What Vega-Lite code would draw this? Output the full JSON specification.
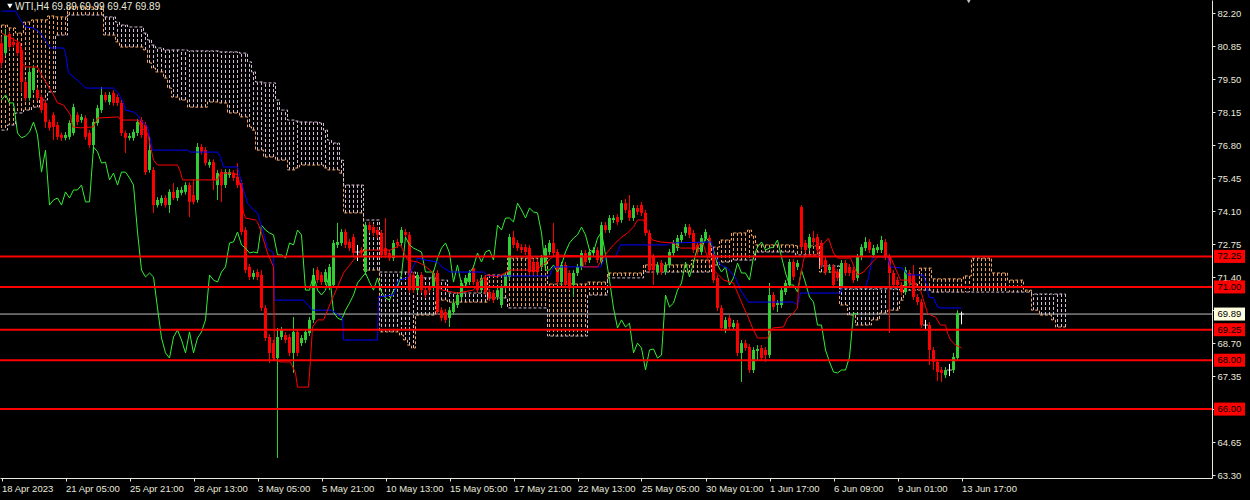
{
  "$schema": "https://vega.github.io/schema/vega-lite/v6.json",
  "width": 1212,
  "height": 478,
  "autosize": {"type": "none"},
  "padding": {"left": 0, "top": 0, "right": 38, "bottom": 22},
  "background": "#000000",
  "config": {"view": {"stroke": null}, "font": "Liberation Sans"},
  "resolve": {"axis": {"x": "independent", "y": "independent"}},
  "datasets": {
    "bars": [
      {"i":0,"o":80.98,"h":81.25,"l":79.98,"c":80.17,"k":78.65,"a":81.72,"b":77.42},
      {"i":1,"o":80.57,"h":81.56,"l":80.45,"c":81.31,"k":78.86,"a":81.72,"b":77.42},
      {"i":2,"o":81.35,"h":81.45,"l":80.7,"c":80.82,"k":78.53,"a":81.6,"b":77.63},
      {"i":3,"o":81.03,"h":81.2,"l":80.8,"c":80.9,"k":78.53,"a":81.6,"b":77.63},
      {"i":4,"o":80.98,"h":81.1,"l":80.45,"c":80.57,"k":77.3,"a":81.39,"b":78.12},
      {"i":5,"o":80.7,"h":80.82,"l":78.98,"c":79.39,"k":77.1,"a":81.39,"b":78.12},
      {"i":6,"o":79.39,"h":79.5,"l":78.6,"c":78.73,"k":77.18,"a":81.84,"b":78.24},
      {"i":7,"o":78.73,"h":80.0,"l":78.62,"c":79.8,"k":77.34,"a":81.84,"b":78.24},
      {"i":8,"o":79.06,"h":80.08,"l":78.95,"c":79.96,"k":77.75,"a":81.93,"b":78.36},
      {"i":9,"o":79.06,"h":79.15,"l":78.62,"c":78.73,"k":77.22,"a":81.93,"b":78.36},
      {"i":10,"o":78.77,"h":78.88,"l":78.12,"c":78.24,"k":75.7,"a":81.93,"b":78.65},
      {"i":11,"o":78.53,"h":78.65,"l":77.51,"c":77.75,"k":76.6,"a":81.93,"b":78.65},
      {"i":12,"o":77.75,"h":77.85,"l":77.4,"c":77.51,"k":74.35,"a":82.09,"b":78.98},
      {"i":13,"o":78.04,"h":78.15,"l":77.01,"c":77.55,"k":74.56,"a":82.09,"b":78.98},
      {"i":14,"o":77.63,"h":77.75,"l":77.02,"c":77.14,"k":74.64,"a":82.05,"b":81.31},
      {"i":15,"o":77.22,"h":77.32,"l":76.98,"c":77.1,"k":74.35,"a":82.05,"b":81.31},
      {"i":16,"o":77.1,"h":77.34,"l":77.0,"c":77.22,"k":74.89,"a":82.05,"b":81.31},
      {"i":17,"o":77.14,"h":77.82,"l":77.03,"c":77.71,"k":74.64,"a":82.46,"b":82.13},
      {"i":18,"o":77.3,"h":78.5,"l":77.2,"c":78.36,"k":74.97,"a":82.46,"b":82.13},
      {"i":19,"o":78.04,"h":78.15,"l":77.62,"c":77.75,"k":74.97,"a":82.46,"b":82.13},
      {"i":20,"o":77.83,"h":78.08,"l":77.72,"c":77.96,"k":75.17,"a":82.46,"b":82.13},
      {"i":21,"o":77.91,"h":78.02,"l":77.02,"c":77.14,"k":74.48,"a":82.46,"b":82.13},
      {"i":22,"o":77.3,"h":77.42,"l":76.7,"c":76.81,"k":74.48,"a":82.46,"b":82.13},
      {"i":23,"o":76.81,"h":77.88,"l":76.48,"c":77.75,"k":76.73,"a":82.46,"b":82.13},
      {"i":24,"o":77.71,"h":78.45,"l":77.6,"c":78.32,"k":76.53,"a":82.46,"b":82.13},
      {"i":25,"o":78.24,"h":79.18,"l":78.12,"c":78.86,"k":76.07,"a":82.46,"b":82.13},
      {"i":26,"o":78.86,"h":78.98,"l":78.55,"c":78.65,"k":76.11,"a":81.31,"b":82.05},
      {"i":27,"o":78.57,"h":78.98,"l":78.45,"c":78.86,"k":75.38,"a":81.31,"b":82.05},
      {"i":28,"o":78.94,"h":79.05,"l":78.42,"c":78.53,"k":75.66,"a":81.31,"b":82.05},
      {"i":29,"o":78.77,"h":78.88,"l":78.4,"c":78.53,"k":75.17,"a":81.03,"b":81.84},
      {"i":30,"o":78.53,"h":78.65,"l":77.18,"c":77.3,"k":75.7,"a":80.82,"b":81.72},
      {"i":31,"o":77.3,"h":77.4,"l":76.48,"c":77.1,"k":75.7,"a":80.82,"b":81.72},
      {"i":32,"o":77.1,"h":77.3,"l":77.0,"c":77.18,"k":75.46,"a":80.82,"b":81.64},
      {"i":33,"o":77.1,"h":77.45,"l":76.98,"c":77.34,"k":75.17,"a":80.82,"b":81.64},
      {"i":34,"o":77.3,"h":77.88,"l":77.18,"c":77.75,"k":73.25,"a":80.82,"b":81.64},
      {"i":35,"o":77.83,"h":77.95,"l":77.1,"c":77.22,"k":71.69,"a":80.82,"b":81.64},
      {"i":36,"o":77.63,"h":77.75,"l":75.58,"c":75.7,"k":71.41,"a":80.7,"b":81.39},
      {"i":37,"o":75.79,"h":77.2,"l":75.68,"c":76.6,"k":71.57,"a":80.17,"b":81.11},
      {"i":38,"o":75.79,"h":75.9,"l":74.03,"c":74.35,"k":71.41,"a":79.96,"b":80.9},
      {"i":39,"o":74.35,"h":74.68,"l":74.25,"c":74.56,"k":70.14,"a":79.8,"b":80.78},
      {"i":40,"o":74.43,"h":74.75,"l":74.32,"c":74.64,"k":68.91,"a":79.8,"b":80.78},
      {"i":41,"o":74.64,"h":74.75,"l":74.25,"c":74.35,"k":68.3,"a":79.55,"b":80.7},
      {"i":42,"o":74.35,"h":75.0,"l":74.03,"c":74.89,"k":68.09,"a":79.14,"b":80.7},
      {"i":43,"o":74.89,"h":75.25,"l":74.55,"c":74.64,"k":68.95,"a":78.77,"b":80.7},
      {"i":44,"o":74.64,"h":75.08,"l":74.52,"c":74.97,"k":69.24,"a":78.77,"b":80.7},
      {"i":45,"o":74.85,"h":75.1,"l":74.75,"c":74.97,"k":68.83,"a":78.65,"b":80.7},
      {"i":46,"o":74.89,"h":75.29,"l":74.78,"c":75.17,"k":68.3,"a":78.65,"b":80.7},
      {"i":47,"o":75.17,"h":75.28,"l":73.86,"c":74.48,"k":69.16,"a":78.36,"b":80.66},
      {"i":48,"o":74.76,"h":75.38,"l":74.38,"c":74.48,"k":68.3,"a":78.36,"b":80.66},
      {"i":49,"o":74.56,"h":76.89,"l":74.45,"c":76.73,"k":68.91,"a":78.36,"b":80.66},
      {"i":50,"o":76.73,"h":76.85,"l":76.42,"c":76.53,"k":69.16,"a":78.36,"b":80.66},
      {"i":51,"o":76.6,"h":76.72,"l":75.96,"c":76.07,"k":69.65,"a":78.36,"b":80.66},
      {"i":52,"o":75.99,"h":76.22,"l":75.88,"c":76.11,"k":71.49,"a":78.57,"b":80.66},
      {"i":53,"o":76.11,"h":76.22,"l":74.97,"c":75.38,"k":71.28,"a":78.57,"b":80.66},
      {"i":54,"o":75.17,"h":75.78,"l":74.56,"c":75.66,"k":71.2,"a":78.57,"b":80.66},
      {"i":55,"o":75.7,"h":75.82,"l":74.48,"c":75.17,"k":71.61,"a":78.53,"b":80.62},
      {"i":56,"o":75.17,"h":75.82,"l":75.05,"c":75.7,"k":71.82,"a":78.53,"b":80.62},
      {"i":57,"o":75.58,"h":75.82,"l":75.46,"c":75.7,"k":72.8,"a":78.12,"b":80.62},
      {"i":58,"o":75.66,"h":75.78,"l":75.34,"c":75.46,"k":72.84,"a":78.12,"b":80.62},
      {"i":59,"o":75.5,"h":76.07,"l":75.05,"c":75.17,"k":73.25,"a":78.12,"b":80.62},
      {"i":60,"o":75.25,"h":75.38,"l":73.12,"c":73.25,"k":72.72,"a":77.96,"b":80.57},
      {"i":61,"o":73.33,"h":73.45,"l":71.57,"c":71.69,"k":72.59,"a":77.96,"b":80.57},
      {"i":62,"o":71.82,"h":71.94,"l":71.28,"c":71.41,"k":72.39,"a":77.55,"b":80.21},
      {"i":63,"o":71.41,"h":71.69,"l":71.3,"c":71.57,"k":72.43,"a":77.42,"b":79.8},
      {"i":64,"o":71.61,"h":71.73,"l":71.28,"c":71.41,"k":72.39,"a":76.6,"b":79.39},
      {"i":65,"o":71.49,"h":71.69,"l":70.01,"c":70.14,"k":73.53,"a":76.6,"b":79.39},
      {"i":66,"o":70.14,"h":70.26,"l":68.79,"c":68.91,"k":73.33,"a":76.32,"b":79.35},
      {"i":67,"o":68.95,"h":69.07,"l":67.89,"c":68.3,"k":73.21,"a":76.32,"b":79.35},
      {"i":68,"o":68.7,"h":68.83,"l":67.97,"c":68.09,"k":73.13,"a":76.32,"b":79.35},
      {"i":69,"o":68.09,"h":69.32,"l":64.0,"c":68.95,"k":72.31,"a":76.19,"b":78.65},
      {"i":70,"o":68.95,"h":69.36,"l":68.83,"c":69.24,"k":72.31,"a":76.19,"b":78.24},
      {"i":71,"o":69.03,"h":69.15,"l":68.7,"c":68.83,"k":72.18,"a":76.19,"b":78.24},
      {"i":72,"o":68.95,"h":69.07,"l":68.17,"c":68.3,"k":72.8,"a":75.79,"b":77.83},
      {"i":73,"o":68.3,"h":69.77,"l":67.48,"c":69.16,"k":72.72,"a":75.79,"b":77.83},
      {"i":74,"o":69.16,"h":69.28,"l":68.17,"c":68.3,"k":73.33,"a":75.87,"b":77.79},
      {"i":75,"o":68.7,"h":69.03,"l":68.58,"c":68.91,"k":73.13,"a":75.99,"b":77.75},
      {"i":76,"o":68.83,"h":69.28,"l":68.7,"c":69.16,"k":70.87,"a":75.99,"b":77.75},
      {"i":77,"o":69.11,"h":69.77,"l":68.99,"c":69.65,"k":70.87,"a":75.99,"b":77.75},
      {"i":78,"o":69.65,"h":71.77,"l":69.52,"c":71.49,"k":71.49,"a":75.99,"b":77.75},
      {"i":79,"o":71.69,"h":71.82,"l":71.16,"c":71.28,"k":70.87,"a":75.99,"b":77.75},
      {"i":80,"o":71.49,"h":71.61,"l":71.08,"c":71.2,"k":70.67,"a":75.99,"b":77.71},
      {"i":81,"o":71.2,"h":71.73,"l":71.08,"c":71.61,"k":70.87,"a":75.87,"b":77.42},
      {"i":82,"o":71.0,"h":71.94,"l":70.87,"c":71.82,"k":71.57,"a":75.79,"b":77.01},
      {"i":83,"o":71.08,"h":72.92,"l":70.96,"c":72.8,"k":69.97,"a":75.79,"b":76.89},
      {"i":84,"o":72.72,"h":73.62,"l":72.59,"c":72.84,"k":69.73,"a":75.79,"b":76.89},
      {"i":85,"o":72.8,"h":73.37,"l":72.68,"c":73.25,"k":69.65,"a":75.66,"b":76.19},
      {"i":86,"o":73.25,"h":73.37,"l":72.59,"c":72.72,"k":70.05,"a":74.03,"b":75.17},
      {"i":87,"o":72.84,"h":72.96,"l":72.47,"c":72.59,"k":70.34,"a":74.03,"b":75.17},
      {"i":88,"o":73.04,"h":73.17,"l":72.27,"c":72.39,"k":70.67,"a":74.03,"b":75.17},
      {"i":89,"o":72.43,"h":72.72,"l":72.06,"c":72.43,"k":71.16,"a":74.03,"b":75.17},
      {"i":90,"o":72.51,"h":72.63,"l":72.27,"c":72.39,"k":71.37,"a":74.03,"b":75.17},
      {"i":91,"o":71.61,"h":73.66,"l":71.49,"c":73.53,"k":71.57,"a":71.69,"b":73.74},
      {"i":92,"o":73.53,"h":73.66,"l":73.21,"c":73.33,"k":71.2,"a":71.69,"b":73.74},
      {"i":93,"o":73.45,"h":73.58,"l":73.09,"c":73.21,"k":70.87,"a":71.69,"b":73.74},
      {"i":94,"o":73.33,"h":73.45,"l":73.0,"c":73.13,"k":71.37,"a":71.69,"b":73.74},
      {"i":95,"o":73.21,"h":73.33,"l":72.18,"c":72.31,"k":70.79,"a":69.16,"b":71.61},
      {"i":96,"o":72.59,"h":73.82,"l":72.18,"c":72.31,"k":70.55,"a":69.16,"b":71.61},
      {"i":97,"o":72.39,"h":72.51,"l":72.06,"c":72.18,"k":70.46,"a":69.16,"b":71.61},
      {"i":98,"o":72.18,"h":72.92,"l":72.06,"c":72.8,"k":70.87,"a":69.16,"b":71.61},
      {"i":99,"o":72.84,"h":72.96,"l":72.59,"c":72.72,"k":71.0,"a":69.16,"b":71.61},
      {"i":100,"o":72.8,"h":73.45,"l":72.68,"c":73.33,"k":71.49,"a":69.03,"b":71.61},
      {"i":101,"o":73.25,"h":73.37,"l":73.0,"c":73.13,"k":73.04,"a":68.83,"b":71.61},
      {"i":102,"o":73.13,"h":73.25,"l":70.75,"c":70.87,"k":72.72,"a":68.62,"b":71.61},
      {"i":103,"o":71.49,"h":71.61,"l":70.75,"c":70.87,"k":72.59,"a":68.5,"b":71.61},
      {"i":104,"o":70.87,"h":71.61,"l":70.75,"c":71.49,"k":72.51,"a":69.85,"b":71.37},
      {"i":105,"o":71.49,"h":71.61,"l":70.75,"c":70.87,"k":72.43,"a":69.85,"b":71.37},
      {"i":106,"o":70.87,"h":70.99,"l":70.55,"c":70.67,"k":71.61,"a":69.85,"b":71.37},
      {"i":107,"o":70.96,"h":71.08,"l":70.75,"c":70.87,"k":71.61,"a":69.85,"b":71.37},
      {"i":108,"o":70.96,"h":71.69,"l":70.83,"c":71.57,"k":71.61,"a":69.85,"b":71.37},
      {"i":109,"o":71.57,"h":71.69,"l":69.85,"c":69.97,"k":72.18,"a":70.46,"b":71.28},
      {"i":110,"o":70.05,"h":70.18,"l":69.6,"c":69.73,"k":72.59,"a":70.46,"b":71.28},
      {"i":111,"o":69.97,"h":70.1,"l":69.52,"c":69.65,"k":72.8,"a":70.46,"b":71.28},
      {"i":112,"o":69.73,"h":70.18,"l":69.36,"c":70.05,"k":72.39,"a":70.38,"b":70.75},
      {"i":113,"o":69.97,"h":70.46,"l":69.85,"c":70.34,"k":71.2,"a":70.38,"b":70.75},
      {"i":114,"o":70.26,"h":70.79,"l":70.14,"c":70.67,"k":71.9,"a":70.38,"b":70.75},
      {"i":115,"o":70.59,"h":71.28,"l":70.46,"c":71.16,"k":71.08,"a":70.38,"b":70.75},
      {"i":116,"o":71.16,"h":71.49,"l":71.04,"c":71.37,"k":71.0,"a":70.38,"b":70.75},
      {"i":117,"o":71.2,"h":71.69,"l":71.08,"c":71.57,"k":71.57,"a":70.38,"b":70.75},
      {"i":118,"o":71.77,"h":71.9,"l":71.08,"c":71.2,"k":71.82,"a":70.38,"b":70.75},
      {"i":119,"o":71.2,"h":71.32,"l":70.75,"c":70.87,"k":72.39,"a":70.38,"b":70.75},
      {"i":120,"o":70.87,"h":71.49,"l":70.75,"c":71.37,"k":72.02,"a":70.38,"b":70.75},
      {"i":121,"o":71.37,"h":71.49,"l":70.67,"c":70.79,"k":72.43,"a":70.38,"b":70.75},
      {"i":122,"o":70.79,"h":70.91,"l":70.42,"c":70.55,"k":72.51,"a":71.49,"b":70.55},
      {"i":123,"o":70.75,"h":70.87,"l":70.34,"c":70.46,"k":72.1,"a":71.49,"b":70.55},
      {"i":124,"o":70.59,"h":70.99,"l":70.46,"c":70.87,"k":73.53,"a":71.49,"b":70.55},
      {"i":125,"o":70.26,"h":71.12,"l":70.14,"c":71.0,"k":73.33,"a":71.49,"b":70.55},
      {"i":126,"o":71.0,"h":71.61,"l":70.87,"c":71.49,"k":73.82,"a":71.49,"b":70.55},
      {"i":127,"o":71.41,"h":73.17,"l":71.28,"c":73.04,"k":73.82,"a":72.18,"b":70.14},
      {"i":128,"o":73.04,"h":73.29,"l":72.59,"c":72.72,"k":73.66,"a":72.18,"b":70.14},
      {"i":129,"o":72.8,"h":72.92,"l":72.47,"c":72.59,"k":74.43,"a":72.18,"b":70.14},
      {"i":130,"o":72.63,"h":72.75,"l":72.39,"c":72.51,"k":74.15,"a":72.18,"b":70.14},
      {"i":131,"o":72.63,"h":72.75,"l":72.31,"c":72.43,"k":73.82,"a":72.18,"b":70.14},
      {"i":132,"o":72.59,"h":72.72,"l":71.49,"c":71.61,"k":74.23,"a":72.18,"b":70.14},
      {"i":133,"o":72.02,"h":72.14,"l":71.49,"c":71.61,"k":74.07,"a":72.18,"b":70.14},
      {"i":134,"o":72.02,"h":72.14,"l":71.49,"c":71.61,"k":74.03,"a":72.18,"b":70.14},
      {"i":135,"o":71.82,"h":72.31,"l":71.69,"c":72.18,"k":73.21,"a":72.18,"b":70.14},
      {"i":136,"o":71.9,"h":72.72,"l":71.77,"c":72.59,"k":71.69,"a":72.18,"b":70.14},
      {"i":137,"o":72.43,"h":72.92,"l":72.31,"c":72.8,"k":71.69,"a":71.12,"b":68.99},
      {"i":138,"o":72.8,"h":73.62,"l":72.27,"c":72.39,"k":71.9,"a":71.12,"b":68.99},
      {"i":139,"o":72.43,"h":72.55,"l":71.08,"c":71.2,"k":71.61,"a":71.12,"b":68.99},
      {"i":140,"o":71.2,"h":72.02,"l":71.08,"c":71.9,"k":71.9,"a":71.12,"b":68.99},
      {"i":141,"o":71.9,"h":72.02,"l":70.96,"c":71.08,"k":72.43,"a":71.12,"b":68.99},
      {"i":142,"o":71.57,"h":71.69,"l":70.87,"c":71.0,"k":72.8,"a":71.12,"b":68.99},
      {"i":143,"o":71.08,"h":71.69,"l":70.59,"c":71.57,"k":73.0,"a":71.12,"b":68.99},
      {"i":144,"o":71.57,"h":71.94,"l":71.45,"c":71.82,"k":73.13,"a":71.12,"b":68.99},
      {"i":145,"o":71.82,"h":72.51,"l":71.69,"c":72.39,"k":73.45,"a":71.12,"b":68.99},
      {"i":146,"o":72.39,"h":72.51,"l":71.9,"c":72.02,"k":73.13,"a":71.12,"b":68.99},
      {"i":147,"o":72.1,"h":72.55,"l":71.98,"c":72.43,"k":72.51,"a":71.2,"b":70.67},
      {"i":148,"o":72.39,"h":72.63,"l":72.27,"c":72.51,"k":72.43,"a":71.2,"b":70.67},
      {"i":149,"o":72.51,"h":72.63,"l":71.98,"c":72.1,"k":73.0,"a":71.2,"b":70.67},
      {"i":150,"o":72.02,"h":73.66,"l":71.9,"c":73.53,"k":73.25,"a":71.2,"b":70.67},
      {"i":151,"o":73.53,"h":73.66,"l":73.21,"c":73.33,"k":72.31,"a":71.2,"b":70.67},
      {"i":152,"o":73.33,"h":73.94,"l":73.21,"c":73.82,"k":71.28,"a":71.57,"b":71.37},
      {"i":153,"o":73.74,"h":73.94,"l":73.62,"c":73.82,"k":70.14,"a":71.57,"b":71.37},
      {"i":154,"o":73.86,"h":73.98,"l":73.53,"c":73.66,"k":69.32,"a":71.57,"b":71.37},
      {"i":155,"o":73.74,"h":74.56,"l":73.62,"c":74.43,"k":69.65,"a":71.57,"b":71.37},
      {"i":156,"o":74.43,"h":74.6,"l":74.03,"c":74.15,"k":69.36,"a":71.57,"b":71.37},
      {"i":157,"o":74.15,"h":74.76,"l":73.7,"c":73.82,"k":69.52,"a":71.57,"b":71.37},
      {"i":158,"o":73.82,"h":74.35,"l":73.7,"c":74.23,"k":68.3,"a":71.57,"b":71.37},
      {"i":159,"o":74.23,"h":74.35,"l":73.94,"c":74.07,"k":68.7,"a":71.57,"b":71.37},
      {"i":160,"o":74.35,"h":74.48,"l":73.9,"c":74.03,"k":68.5,"a":71.57,"b":71.37},
      {"i":161,"o":74.03,"h":74.15,"l":73.09,"c":73.21,"k":67.6,"a":71.9,"b":71.61},
      {"i":162,"o":73.21,"h":73.33,"l":71.57,"c":71.69,"k":68.42,"a":71.9,"b":71.61},
      {"i":163,"o":72.23,"h":72.35,"l":71.08,"c":71.69,"k":68.46,"a":71.9,"b":71.61},
      {"i":164,"o":71.61,"h":72.02,"l":71.49,"c":71.9,"k":68.09,"a":71.9,"b":71.61},
      {"i":165,"o":71.98,"h":72.1,"l":71.49,"c":71.61,"k":68.21,"a":71.9,"b":71.61},
      {"i":166,"o":71.61,"h":72.02,"l":71.49,"c":71.9,"k":70.67,"a":71.9,"b":71.61},
      {"i":167,"o":71.9,"h":72.55,"l":71.77,"c":72.43,"k":70.18,"a":71.9,"b":71.61},
      {"i":168,"o":72.39,"h":72.92,"l":72.27,"c":72.8,"k":70.34,"a":71.9,"b":71.61},
      {"i":169,"o":72.59,"h":73.13,"l":72.47,"c":73.0,"k":70.87,"a":71.9,"b":71.61},
      {"i":170,"o":72.92,"h":73.25,"l":72.8,"c":73.13,"k":71.16,"a":71.9,"b":71.61},
      {"i":171,"o":73.21,"h":73.58,"l":73.09,"c":73.45,"k":72.02,"a":71.9,"b":71.61},
      {"i":172,"o":73.45,"h":73.58,"l":73.0,"c":73.13,"k":71.41,"a":71.9,"b":71.61},
      {"i":173,"o":73.21,"h":73.33,"l":72.39,"c":72.51,"k":71.98,"a":72.1,"b":71.61},
      {"i":174,"o":72.72,"h":72.84,"l":72.31,"c":72.43,"k":72.63,"a":72.1,"b":71.61},
      {"i":175,"o":72.43,"h":73.13,"l":72.31,"c":73.0,"k":72.51,"a":72.1,"b":71.61},
      {"i":176,"o":73.0,"h":73.37,"l":72.88,"c":73.25,"k":73.04,"a":72.1,"b":71.61},
      {"i":177,"o":73.0,"h":73.13,"l":72.18,"c":72.31,"k":72.84,"a":72.1,"b":71.61},
      {"i":178,"o":72.31,"h":72.43,"l":71.16,"c":71.28,"k":72.51,"a":72.63,"b":71.9},
      {"i":179,"o":71.37,"h":71.49,"l":70.01,"c":70.14,"k":71.9,"a":72.63,"b":71.9},
      {"i":180,"o":70.14,"h":70.26,"l":69.2,"c":69.32,"k":71.61,"a":72.92,"b":72.02},
      {"i":181,"o":69.24,"h":69.77,"l":69.11,"c":69.65,"k":71.82,"a":72.92,"b":72.02},
      {"i":182,"o":69.73,"h":69.85,"l":69.24,"c":69.36,"k":71.08,"a":72.92,"b":72.02},
      {"i":183,"o":69.36,"h":69.65,"l":69.24,"c":69.52,"k":71.37,"a":73.21,"b":72.1},
      {"i":184,"o":69.52,"h":69.65,"l":68.17,"c":68.3,"k":71.98,"a":73.21,"b":72.1},
      {"i":185,"o":68.3,"h":68.83,"l":67.11,"c":68.7,"k":71.57,"a":73.21,"b":72.1},
      {"i":186,"o":68.7,"h":68.83,"l":68.38,"c":68.5,"k":71.57,"a":73.21,"b":72.1},
      {"i":187,"o":68.54,"h":68.66,"l":67.48,"c":67.6,"k":71.28,"a":73.33,"b":72.1},
      {"i":188,"o":67.6,"h":68.54,"l":67.48,"c":68.42,"k":72.23,"a":73.09,"b":72.1},
      {"i":189,"o":68.38,"h":68.62,"l":68.01,"c":68.46,"k":72.63,"a":72.72,"b":72.43},
      {"i":190,"o":68.5,"h":68.62,"l":67.97,"c":68.09,"k":72.84,"a":72.72,"b":72.43},
      {"i":191,"o":68.42,"h":68.54,"l":67.93,"c":68.21,"k":72.51,"a":72.72,"b":72.43},
      {"i":192,"o":68.21,"h":71.16,"l":68.09,"c":70.67,"k":72.59,"a":72.72,"b":72.43},
      {"i":193,"o":70.67,"h":70.79,"l":70.05,"c":70.18,"k":72.63,"a":72.72,"b":72.43},
      {"i":194,"o":70.26,"h":70.46,"l":69.97,"c":70.34,"k":72.92,"a":72.72,"b":72.43},
      {"i":195,"o":70.26,"h":70.99,"l":70.14,"c":70.87,"k":72.23,"a":72.72,"b":72.43},
      {"i":196,"o":70.79,"h":71.28,"l":70.67,"c":71.16,"k":71.57,"a":72.72,"b":72.43},
      {"i":197,"o":71.08,"h":72.14,"l":70.96,"c":72.02,"k":71.08,"a":72.72,"b":72.43},
      {"i":198,"o":72.02,"h":72.14,"l":71.28,"c":71.41,"k":71.08,"a":72.72,"b":72.43},
      {"i":199,"o":71.82,"h":72.1,"l":71.69,"c":71.98,"k":70.79,"a":72.68,"b":72.31},
      {"i":200,"o":74.27,"h":74.35,"l":72.51,"c":72.63,"k":71.69,"a":72.68,"b":72.31},
      {"i":201,"o":72.8,"h":72.92,"l":72.39,"c":72.51,"k":71.16,"a":72.68,"b":72.31},
      {"i":202,"o":72.59,"h":73.17,"l":72.47,"c":73.04,"k":70.59,"a":72.68,"b":72.31},
      {"i":203,"o":73.0,"h":73.29,"l":72.72,"c":72.84,"k":70.38,"a":72.68,"b":72.31},
      {"i":204,"o":73.04,"h":73.17,"l":72.39,"c":72.51,"k":69.44,"a":72.68,"b":72.31},
      {"i":205,"o":72.8,"h":72.92,"l":71.77,"c":71.9,"k":69.44,"a":71.61,"b":71.86},
      {"i":206,"o":72.1,"h":72.23,"l":71.49,"c":71.61,"k":68.42,"a":71.61,"b":71.86},
      {"i":207,"o":71.69,"h":71.94,"l":71.57,"c":71.82,"k":67.93,"a":71.61,"b":71.86},
      {"i":208,"o":71.82,"h":71.94,"l":70.96,"c":71.08,"k":67.52,"a":71.61,"b":71.86},
      {"i":209,"o":71.61,"h":71.73,"l":71.24,"c":71.37,"k":67.48,"a":71.61,"b":71.86},
      {"i":210,"o":71.0,"h":72.1,"l":70.87,"c":71.98,"k":67.6,"a":70.26,"b":70.92},
      {"i":211,"o":71.98,"h":72.1,"l":71.45,"c":71.57,"k":67.6,"a":70.26,"b":70.92},
      {"i":212,"o":71.82,"h":71.94,"l":71.45,"c":71.57,"k":68.13,"a":69.85,"b":70.92},
      {"i":213,"o":71.69,"h":71.82,"l":71.16,"c":71.28,"k":69.93,"a":69.85,"b":70.92},
      {"i":214,"o":71.37,"h":72.35,"l":71.24,"c":72.23,"k":69.89,"a":69.44,"b":70.92},
      {"i":215,"o":72.23,"h":72.75,"l":72.1,"c":72.63,"a":69.44,"b":70.92},
      {"i":216,"o":72.59,"h":73.04,"l":72.47,"c":72.84,"a":69.44,"b":70.92},
      {"i":217,"o":72.84,"h":72.96,"l":72.39,"c":72.51,"a":69.44,"b":70.92},
      {"i":218,"o":72.31,"h":72.72,"l":72.18,"c":72.59,"a":69.65,"b":70.92},
      {"i":219,"o":72.51,"h":72.75,"l":72.39,"c":72.63,"a":69.65,"b":70.92},
      {"i":220,"o":72.51,"h":73.09,"l":72.39,"c":72.92,"a":69.93,"b":70.92},
      {"i":221,"o":72.84,"h":72.96,"l":72.1,"c":72.23,"a":69.93,"b":70.92},
      {"i":222,"o":72.23,"h":72.35,"l":69.11,"c":71.57,"a":70.05,"b":70.92},
      {"i":223,"o":71.57,"h":71.69,"l":70.96,"c":71.08,"a":70.05,"b":70.92},
      {"i":224,"o":71.28,"h":71.41,"l":70.96,"c":71.08,"a":70.05,"b":70.92},
      {"i":225,"o":71.08,"h":71.2,"l":70.67,"c":70.79,"a":70.46,"b":70.87},
      {"i":226,"o":70.79,"h":71.82,"l":70.67,"c":71.69,"a":71.12,"b":70.87},
      {"i":227,"o":71.57,"h":71.69,"l":71.04,"c":71.16,"a":71.12,"b":70.87},
      {"i":228,"o":71.49,"h":71.9,"l":70.46,"c":70.59,"a":71.12,"b":70.87},
      {"i":229,"o":70.59,"h":70.71,"l":70.26,"c":70.38,"a":71.12,"b":70.87},
      {"i":230,"o":70.38,"h":70.51,"l":69.32,"c":69.44,"a":71.77,"b":70.87},
      {"i":231,"o":69.44,"h":69.65,"l":69.24,"c":69.44,"a":71.77,"b":70.87},
      {"i":232,"o":69.44,"h":69.56,"l":67.8,"c":68.42,"a":71.77,"b":70.87},
      {"i":233,"o":68.42,"h":68.54,"l":67.6,"c":67.93,"a":71.33,"b":70.79},
      {"i":234,"o":67.93,"h":68.05,"l":67.15,"c":67.52,"a":71.33,"b":70.79},
      {"i":235,"o":67.6,"h":67.72,"l":67.11,"c":67.48,"a":71.33,"b":70.79},
      {"i":236,"o":67.39,"h":67.72,"l":67.27,"c":67.6,"a":71.33,"b":70.79},
      {"i":237,"o":67.6,"h":67.85,"l":67.35,"c":67.6,"a":71.33,"b":70.79},
      {"i":238,"o":67.6,"h":68.3,"l":67.48,"c":68.13,"a":71.33,"b":70.79},
      {"i":239,"o":68.09,"h":70.05,"l":67.97,"c":69.93,"a":71.33,"b":70.79},
      {"i":240,"o":69.89,"h":69.99,"l":69.47,"c":69.89,"a":71.33,"b":70.79},
      {"i":241,"a":71.45,"b":70.79},
      {"i":242,"a":71.45,"b":70.79},
      {"i":243,"a":72.18,"b":70.79},
      {"i":244,"a":72.18,"b":70.79},
      {"i":245,"a":72.18,"b":70.79},
      {"i":246,"a":72.18,"b":70.79},
      {"i":247,"a":72.18,"b":70.79},
      {"i":248,"a":71.57,"b":70.79},
      {"i":249,"a":71.57,"b":70.79},
      {"i":250,"a":71.57,"b":70.79},
      {"i":251,"a":71.57,"b":70.79},
      {"i":252,"a":71.28,"b":70.79},
      {"i":253,"a":71.28,"b":70.79},
      {"i":254,"a":71.28,"b":70.79},
      {"i":255,"a":71.28,"b":70.79},
      {"i":256,"a":70.87,"b":70.79},
      {"i":257,"a":70.87,"b":70.79},
      {"i":258,"a":70.05,"b":70.71},
      {"i":259,"a":70.05,"b":70.71},
      {"i":260,"a":69.85,"b":70.71},
      {"i":261,"a":69.85,"b":70.71},
      {"i":262,"a":69.85,"b":70.71},
      {"i":263,"a":69.65,"b":70.71},
      {"i":264,"a":69.36,"b":70.71},
      {"i":265,"a":69.36,"b":70.71},
      {"i":266,"a":69.36,"b":70.71}
    ],
    "tenkan": [
      {"i":0,"v":81.39},{"i":4.75,"v":80.98},{"i":4.8,"v":80.21},{"i":6,"v":80.0},{"i":9,"v":80.0},
      {"i":9.75,"v":79.76},{"i":12.25,"v":79.06},{"i":13,"v":78.86},{"i":14,"v":78.53},{"i":15.5,"v":78.45},
      {"i":17.25,"v":78.04},{"i":17.75,"v":77.55},{"i":19.75,"v":77.51},{"i":23,"v":77.55},{"i":24,"v":77.91},
      {"i":29.25,"v":77.96},{"i":29.75,"v":77.83},{"i":34.25,"v":77.83},{"i":34.75,"v":77.55},{"i":36.5,"v":77.3},
      {"i":38,"v":76.19},{"i":39,"v":75.99},{"i":44,"v":75.99},{"i":44.75,"v":75.7},{"i":45.25,"v":75.38},
      {"i":54,"v":75.38},{"i":54.75,"v":75.66},{"i":58,"v":75.66},{"i":59,"v":75.58},{"i":59.75,"v":75.09},
      {"i":60.5,"v":74.03},{"i":61,"v":73.82},{"i":63.5,"v":73.74},{"i":64,"v":73.66},{"i":64.75,"v":73.33},
      {"i":66.5,"v":72.39},{"i":68,"v":71.82},{"i":68.25,"v":68.01},{"i":69.75,"v":67.93},{"i":72.25,"v":67.93},
      {"i":73.5,"v":67.48},{"i":74,"v":66.9},{"i":76.75,"v":66.9},{"i":77.25,"v":68.01},{"i":77.75,"v":69.36},
      {"i":79,"v":69.65},{"i":80.5,"v":69.65},{"i":82.25,"v":70.34},{"i":84,"v":71.0},{"i":85.5,"v":71.57},
      {"i":88,"v":72.1},{"i":89.75,"v":72.39},{"i":91,"v":72.51},{"i":97.25,"v":72.51},{"i":99.75,"v":72.72},
      {"i":101.5,"v":72.1},{"i":104,"v":72.02},{"i":105.5,"v":71.9},{"i":108,"v":71.57},{"i":109,"v":71.0},
      {"i":110.25,"v":70.87},{"i":114,"v":70.75},{"i":118,"v":70.87},{"i":119.75,"v":71.28},{"i":121.5,"v":71.49},
      {"i":124,"v":71.41},{"i":127.25,"v":71.69},{"i":132.25,"v":71.69},{"i":133,"v":71.61},{"i":138.5,"v":72.31},
      {"i":145.25,"v":72.27},{"i":145.5,"v":71.82},{"i":149,"v":71.82},{"i":149.75,"v":72.02},{"i":151.5,"v":72.43},
      {"i":153,"v":72.72},{"i":154.75,"v":73.0},{"i":156.5,"v":73.21},{"i":158,"v":73.45},{"i":159,"v":73.74},
      {"i":160.5,"v":73.74},{"i":161.5,"v":73.25},{"i":162.75,"v":72.92},{"i":164.75,"v":72.84},{"i":168,"v":72.8},
      {"i":169.75,"v":72.59},{"i":174,"v":72.59},{"i":174.75,"v":72.8},{"i":175.5,"v":72.72},{"i":177.25,"v":71.82},
      {"i":179.25,"v":71.49},{"i":180.5,"v":71.28},{"i":183,"v":71.16},{"i":184.25,"v":70.67},{"i":185.5,"v":70.18},
      {"i":186.75,"v":69.73},{"i":187.75,"v":69.32},{"i":189,"v":68.91},{"i":191.5,"v":68.91},{"i":192.75,"v":69.32},
      {"i":195.5,"v":69.36},{"i":196.5,"v":69.73},{"i":198,"v":69.93},{"i":199,"v":70.14},{"i":199.25,"v":71.0},
      {"i":200.5,"v":72.1},{"i":201,"v":72.31},{"i":204,"v":72.31},{"i":205.25,"v":72.72},{"i":206.75,"v":73.0},
      {"i":208,"v":72.39},{"i":209,"v":72.18},{"i":212.25,"v":72.18},{"i":214,"v":71.49},{"i":215.5,"v":71.61},
      {"i":217.75,"v":72.02},{"i":219,"v":72.23},{"i":222.25,"v":72.23},{"i":224.75,"v":71.28},{"i":228,"v":71.28},
      {"i":229,"v":71.0},{"i":229.75,"v":70.87},{"i":231.5,"v":69.93},{"i":232.25,"v":69.85},{"i":233.5,"v":69.77},
      {"i":234.75,"v":69.44},{"i":236,"v":69.44},{"i":236.5,"v":69.11},{"i":237.25,"v":68.83},{"i":238.5,"v":68.62},
      {"i":240,"v":68.5}
    ],
    "kijun": [
      {"i":0,"v":82.29},{"i":3.5,"v":82.29},{"i":4.75,"v":81.93},{"i":6,"v":81.64},{"i":8,"v":81.6},
      {"i":9.75,"v":81.39},{"i":12.25,"v":80.78},{"i":15.5,"v":80.78},{"i":16,"v":80.57},{"i":16.75,"v":79.76},
      {"i":17.75,"v":79.63},{"i":19.75,"v":79.35},{"i":21,"v":79.14},{"i":28,"v":79.14},{"i":29,"v":78.98},
      {"i":29.75,"v":78.77},{"i":30.5,"v":78.53},{"i":31,"v":78.24},{"i":33,"v":78.16},{"i":34,"v":78.04},
      {"i":34.75,"v":77.83},{"i":36.5,"v":77.55},{"i":37.25,"v":77.01},{"i":37.75,"v":76.6},{"i":46.5,"v":76.6},
      {"i":47.25,"v":76.52},{"i":54,"v":76.52},{"i":54.75,"v":76.32},{"i":55.5,"v":75.91},{"i":59,"v":75.91},
      {"i":60.5,"v":74.97},{"i":61.5,"v":74.43},{"i":63,"v":74.15},{"i":64,"v":74.03},{"i":65.5,"v":73.21},
      {"i":66.5,"v":72.59},{"i":68,"v":72.39},{"i":68.25,"v":70.46},{"i":75.5,"v":70.46},{"i":77.75,"v":70.05},
      {"i":82.5,"v":70.05},{"i":85.25,"v":69.73},{"i":85.5,"v":68.83},{"i":94,"v":68.83},{"i":94.25,"v":70.59},
      {"i":98,"v":70.67},{"i":99.25,"v":71.28},{"i":101.5,"v":71.37},{"i":104,"v":72.18},{"i":106,"v":72.1},
      {"i":109,"v":72.02},{"i":110.5,"v":71.77},{"i":112.25,"v":71.61},{"i":120.5,"v":71.61},{"i":121.5,"v":71.45},
      {"i":137,"v":71.45},{"i":138,"v":71.82},{"i":149.75,"v":71.82},{"i":151,"v":72.23},{"i":153.5,"v":72.23},
      {"i":154.25,"v":72.51},{"i":154.75,"v":72.72},{"i":166.5,"v":72.72},{"i":167.25,"v":72.8},{"i":177.5,"v":72.84},
      {"i":178,"v":72.39},{"i":179.75,"v":71.9},{"i":181.5,"v":71.77},{"i":183.5,"v":71.37},{"i":184.75,"v":70.87},
      {"i":186.75,"v":70.38},{"i":198,"v":70.38},{"i":199,"v":70.26},{"i":199.75,"v":70.75},{"i":209.75,"v":70.75},
      {"i":210.25,"v":71.0},{"i":216,"v":71.0},{"i":216.75,"v":71.37},{"i":217.75,"v":72.23},{"i":221.5,"v":72.23},
      {"i":222.25,"v":71.82},{"i":225.25,"v":71.77},{"i":226.5,"v":71.49},{"i":230.5,"v":71.49},{"i":231,"v":71.2},
      {"i":231.5,"v":71.0},{"i":231.75,"v":70.59},{"i":233,"v":70.55},{"i":234,"v":70.18},{"i":234.75,"v":70.14},
      {"i":240,"v":70.14}
    ],
    "levels": [
      {"v":72.25,"t":"72.25","k":"red"},
      {"v":71.0,"t":"71.00","k":"red"},
      {"v":69.25,"t":"69.25","k":"red"},
      {"v":68.0,"t":"68.00","k":"red"},
      {"v":66.0,"t":"66.00","k":"red"},
      {"v":69.89,"t":"69.89","k":"cur"}
    ]
  },
  "layer": [
    {
      "data": {"name": "bars"},
      "mark": {"type": "rule", "strokeWidth": 1, "strokeDash": [3, 2]},
      "encoding": {
        "x": {
          "field": "i",
          "type": "quantitative",
          "scale": {"domain": [-0.375, 302.625], "nice": false, "zero": false},
          "axis": {
            "orient": "bottom",
            "title": null,
            "domain": true,
            "domainColor": "#E8E8DC",
            "grid": false,
            "values": [0, 16, 32, 48, 64, 80, 96, 112, 128, 144, 160, 176, 192, 208, 224, 240],
            "labelExpr": "['18 Apr 2023','21 Apr 05:00','25 Apr 21:00','28 Apr 13:00','3 May 05:00','5 May 21:00','10 May 13:00','15 May 05:00','17 May 21:00','22 May 13:00','25 May 05:00','30 May 01:00','1 Jun 17:00','6 Jun 09:00','9 Jun 01:00','13 Jun 17:00'][round(datum.value / 16)]",
            "tickColor": "#E8E8DC",
            "tickSize": 3,
            "labelColor": "#E8E8DC",
            "labelFont": "Liberation Sans",
            "labelFontSize": 9.5,
            "labelPadding": 2,
            "labelAlign": "left",
            "labelBaseline": "top",
            "labelFlush": false,
            "labelOverlap": false
          }
        },
        "y": {
          "field": "a",
          "type": "quantitative",
          "scale": {"domain": [63.18, 82.744], "nice": false, "zero": false},
          "axis": {
            "orient": "right",
            "title": null,
            "domain": true,
            "domainColor": "#E8E8DC",
            "grid": false,
            "values": [63.3, 64.65, 66, 67.35, 68.7, 70.05, 71.4, 72.75, 74.1, 75.45, 76.8, 78.15, 79.5, 80.85, 82.2],
            "format": ".2f",
            "tickColor": "#E8E8DC",
            "tickSize": 3,
            "labelColor": "#E8E8DC",
            "labelFont": "Liberation Sans",
            "labelFontSize": 9.5,
            "labelPadding": 2,
            "labelAlign": "left",
            "labelBaseline": "middle",
            "labelFlush": false,
            "labelOverlap": false
          }
        },
        "y2": {"field": "b"},
        "color": {"condition": {"test": "datum.a >= datum.b", "value": "#F4A460"}, "value": "#D8BFD8"}
      }
    },
    {
      "data": {"name": "bars"},
      "mark": {"type": "line", "color": "#F4A460", "strokeWidth": 1, "strokeDash": [3, 2], "interpolate": "step"},
      "encoding": {
        "x": {"field": "i", "type": "quantitative", "axis": null},
        "y": {"field": "a", "type": "quantitative", "axis": null}
      }
    },
    {
      "data": {"name": "bars"},
      "mark": {"type": "line", "color": "#D8BFD8", "strokeWidth": 1, "strokeDash": [3, 2], "interpolate": "step"},
      "encoding": {
        "x": {"field": "i", "type": "quantitative", "axis": null},
        "y": {"field": "b", "type": "quantitative", "axis": null}
      }
    },
    {
      "data": {"name": "levels"},
      "transform": [{"filter": "datum.k == 'cur'"}],
      "mark": {"type": "rule", "color": "#C0C0C0", "strokeWidth": 1},
      "encoding": {
        "x": {"datum": -0.375, "axis": null},
        "x2": {"datum": 302.625},
        "y": {"field": "v", "type": "quantitative", "axis": null}
      }
    },
    {
      "data": {"name": "bars"},
      "transform": [{"filter": "isValid(datum.o)"}],
      "mark": {"type": "rule", "strokeWidth": 1},
      "encoding": {
        "x": {"field": "i", "type": "quantitative", "axis": null},
        "y": {"field": "h", "type": "quantitative", "axis": null},
        "y2": {"field": "l"},
        "color": {
          "condition": [
            {"test": "datum.c > datum.o", "value": "#32CD32"},
            {"test": "datum.c < datum.o", "value": "#FF0000"}
          ],
          "value": "#FFFFFF"
        }
      }
    },
    {
      "data": {"name": "bars"},
      "transform": [{"filter": "isValid(datum.o) && datum.o != datum.c"}],
      "mark": {"type": "rule", "strokeWidth": 3},
      "encoding": {
        "x": {"field": "i", "type": "quantitative", "axis": null},
        "y": {"field": "o", "type": "quantitative", "axis": null},
        "y2": {"field": "c"},
        "color": {"condition": {"test": "datum.c > datum.o", "value": "#32CD32"}, "value": "#FF0000"}
      }
    },
    {
      "data": {"name": "bars"},
      "transform": [{"filter": "isValid(datum.o) && datum.o == datum.c"}],
      "mark": {"type": "tick", "orient": "horizontal", "size": 5, "thickness": 1, "color": "#FFFFFF"},
      "encoding": {
        "x": {"field": "i", "type": "quantitative", "axis": null},
        "y": {"field": "o", "type": "quantitative", "axis": null}
      }
    },
    {
      "data": {"name": "bars"},
      "transform": [{"filter": "isValid(datum.k)"}],
      "mark": {"type": "line", "color": "#33EE33", "strokeWidth": 1},
      "encoding": {
        "x": {"field": "i", "type": "quantitative", "axis": null},
        "y": {"field": "k", "type": "quantitative", "axis": null}
      }
    },
    {
      "data": {"name": "kijun"},
      "mark": {"type": "line", "color": "#0000FF", "strokeWidth": 1},
      "encoding": {
        "x": {"field": "i", "type": "quantitative", "axis": null},
        "y": {"field": "v", "type": "quantitative", "axis": null}
      }
    },
    {
      "data": {"name": "tenkan"},
      "mark": {"type": "line", "color": "#FF0000", "strokeWidth": 1},
      "encoding": {
        "x": {"field": "i", "type": "quantitative", "axis": null},
        "y": {"field": "v", "type": "quantitative", "axis": null}
      }
    },
    {
      "data": {"name": "levels"},
      "transform": [{"filter": "datum.k == 'red'"}],
      "mark": {"type": "rule", "color": "#FF0000", "strokeWidth": 2},
      "encoding": {
        "x": {"datum": -0.375, "axis": null},
        "x2": {"datum": 302.625},
        "y": {"field": "v", "type": "quantitative", "axis": null}
      }
    },
    {
      "data": {"name": "levels"},
      "mark": {"type": "point", "filled": true, "opacity": 1, "strokeWidth": 0, "shape": "M-1,-0.42L1,-0.42L1,0.42L-1,0.42Z", "size": 961},
      "encoding": {
        "x": {"datum": 307.0, "axis": null},
        "y": {"field": "v", "type": "quantitative", "axis": null},
        "color": {"condition": {"test": "datum.k == 'cur'", "value": "#FFFFE0"}, "value": "#FF0000"}
      }
    },
    {
      "data": {"name": "levels"},
      "mark": {"type": "text", "align": "left", "baseline": "middle", "font": "Liberation Sans", "fontSize": 9.5, "color": "#000000"},
      "encoding": {
        "x": {"datum": 304.0, "axis": null},
        "y": {"field": "v", "type": "quantitative", "axis": null},
        "text": {"field": "t"}
      }
    },
    {
      "data": {"values": [{"t": "WTI,H4  69.89 69.99 69.47 69.89"}]},
      "mark": {"type": "text", "align": "left", "baseline": "middle", "font": "Liberation Sans", "fontSize": 10, "color": "#E8E8DC"},
      "encoding": {
        "x": {"datum": 3.4, "axis": null},
        "y": {"datum": 82.44, "axis": null},
        "text": {"field": "t"}
      }
    },
    {
      "data": {"values": [{"m": "title"}]},
      "mark": {"type": "point", "shape": "triangle-down", "filled": true, "opacity": 1, "size": 30, "color": "#FFFFFF"},
      "encoding": {
        "x": {"datum": 2.1, "axis": null},
        "y": {"datum": 82.49, "axis": null}
      }
    },
    {
      "data": {"values": [{"m": "shift"}]},
      "mark": {"type": "point", "shape": "triangle-down", "filled": true, "opacity": 1, "size": 24, "color": "#C0C0C0"},
      "encoding": {
        "x": {"datum": 241.8, "axis": null},
        "y": {"datum": 82.70, "axis": null}
      }
    }
  ]
}
